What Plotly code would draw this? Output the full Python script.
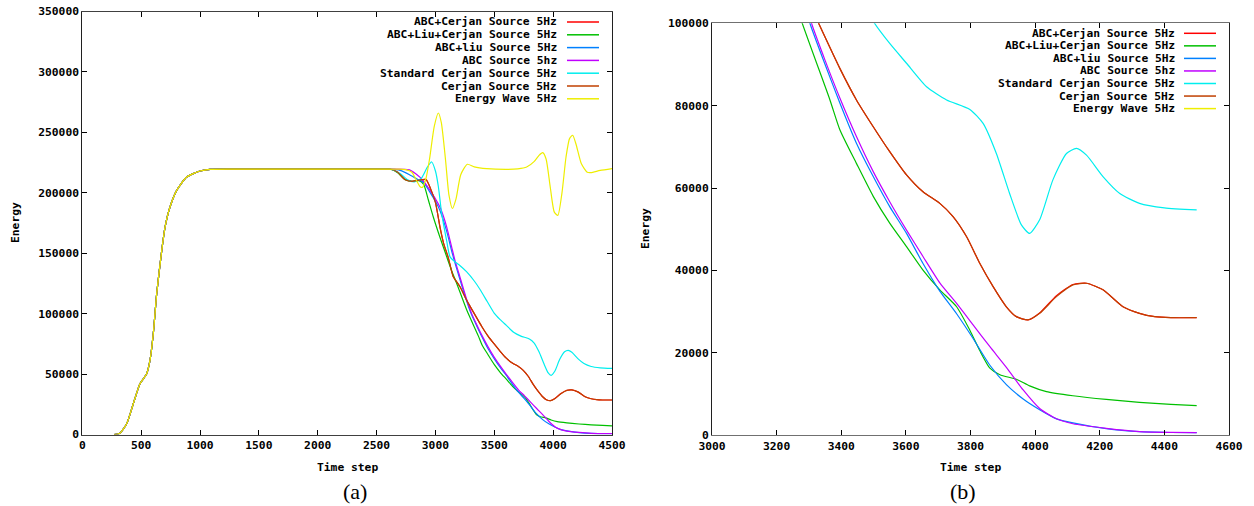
import plotly.graph_objects as go

# ---- shared start-up phase (all runs identical until the absorbing layer is reached)
ramp_t = [270, 320, 377, 433, 490, 547, 575, 603, 632, 675, 703, 745, 802, 887, 1000, 1085, 1500, 2000, 2600]
ramp_e = [0, 1100, 8900, 25400, 42000, 50300, 61300, 83400, 116500, 152400, 171600, 188200, 202000,
          213000, 218000, 219400, 219500, 219500, 219500]

# ---- per-run energy after time step 2600
abc_cerjan_t = [2620, 2680, 2740, 2800, 2860, 2920, 2960, 3000, 3040, 3070, 3110, 3150, 3210, 3266, 3330,
                3396, 3447, 3499, 3550, 3602, 3653, 3705, 3746, 3788, 3829, 3870, 3911, 3942, 3978, 4014,
                4066, 4117, 4159, 4210, 4272, 4323, 4370, 4420, 4500]
abc_cerjan_e = [219500, 217000, 211000, 209500, 210500, 211000, 203000, 192000, 171000, 158000, 146000, 131000,
                122000, 111000, 100000, 89000, 81400, 74900, 68850, 63200, 59100, 56300, 53100, 48200, 41700,
                36100, 31200, 28800, 28000, 29700, 33900, 36600, 36900, 35300, 31200, 29600, 28800, 28550, 28550]

abc_liu_cerjan_t = [2620, 2680, 2740, 2800, 2860, 2900, 2940, 2982, 3039, 3096, 3140, 3181, 3266, 3365, 3396,
                    3447, 3499, 3550, 3602, 3653, 3705, 3757, 3798, 3829, 3860, 3891, 3942, 3983, 4035, 4117,
                    4220, 4323, 4420, 4500]
abc_liu_cerjan_e = [219500, 216500, 211000, 209500, 210000, 207000, 194000, 180000, 163000, 147000, 135000,
                    125000, 103000, 81400, 74100, 66000, 58000, 51500, 45800, 40100, 35300, 31200, 25500, 20500,
                    16300, 14700, 13600, 12000, 10600, 9600, 8700, 8000, 7500, 7200]

abc_liu_t = [2620, 2700, 2780, 2850, 2900, 2950, 3000, 3040, 3096, 3140, 3181, 3250, 3303, 3350, 3396, 3447,
             3499, 3550, 3602, 3653, 3705, 3757, 3808, 3860, 3911, 3963, 4014, 4066, 4117, 4220, 4323, 4420, 4500]
abc_liu_e = [219500, 218500, 215000, 211000, 208500, 201000, 193000, 185000, 168000, 151000, 137000, 115000,
             100000, 90000, 80600, 70900, 62800, 55500, 49000, 41700, 35000, 29500, 23500, 17000, 12300, 8800,
             6200, 4000, 3000, 1600, 870, 680, 630]

abc_t = [2620, 2780, 2830, 2870, 2912, 2954, 3000, 3039, 3070, 3096, 3138, 3166, 3200, 3266, 3308, 3350, 3396,
         3447, 3499, 3550, 3602, 3653, 3705, 3757, 3808, 3860, 3911, 3963, 4014, 4066, 4117, 4220, 4323, 4420, 4500]
abc_e = [219500, 219000, 216000, 212700, 208000, 202000, 195000, 188000, 180000, 171600, 155100, 144100,
         133000, 111500, 100000, 91000, 81800, 72500, 64000, 56700, 49800, 43400, 37000, 32000, 26800, 21500,
         16500, 11000, 6500, 4000, 2800, 1700, 900, 700, 650]

std_cerjan_t = [2620, 2700, 2760, 2820, 2880, 2930, 2968, 3000, 3025, 3053, 3096, 3124, 3165, 3200, 3266, 3330,
                3379, 3440, 3499, 3550, 3602, 3664, 3726, 3798, 3839, 3880, 3921, 3958, 3983, 4014, 4055, 4097,
                4128, 4159, 4210, 4262, 4323, 4400, 4500]
std_cerjan_e = [219500, 216000, 211000, 209000, 212000, 221000, 225500, 218000, 205000, 183000, 160000, 147000,
                143000, 140500, 134500, 127000, 120000, 110000, 100500, 95100, 90300, 84600, 81400, 79100, 75700,
                68400, 58700, 51000, 49000, 52300, 62000, 68400, 69650, 68000, 62800, 58700, 56300, 55200, 54700]

cerjan_t = [2620, 2680, 2740, 2800, 2860, 2920, 2960, 3000, 3040, 3070, 3110, 3150, 3210, 3266, 3330, 3396,
            3447, 3499, 3550, 3602, 3653, 3705, 3746, 3788, 3829, 3870, 3911, 3942, 3978, 4014, 4066, 4117,
            4159, 4210, 4272, 4323, 4370, 4420, 4500]
cerjan_e = [219500, 217000, 211000, 209500, 210500, 211000, 203000, 192000, 171000, 158000, 146000, 131000,
            122000, 111000, 100000, 89000, 81400, 74900, 68850, 63200, 59100, 56300, 53100, 48200, 41700, 36100,
            31200, 28800, 28000, 29600, 33650, 36500, 36900, 35300, 31200, 29600, 28800, 28550, 28550]

wave_t = [2620, 2700, 2756, 2800, 2840, 2870, 2890, 2920, 2950, 2990, 3025, 3050, 3085, 3115, 3144, 3175, 3215,
          3271, 3330, 3436, 3606, 3700, 3775, 3840, 3880, 3911, 3940, 3975, 4010, 4040, 4075, 4110, 4140, 4166,
          4195, 4240, 4290, 4320, 4400, 4500]
wave_e = [219500, 219500, 219000, 217000, 210000, 205000, 204500, 212000, 228000, 255000, 266000, 258000,
          228000, 198000, 187000, 195000, 215000, 223600, 221500, 220000, 219400, 219800, 221300, 226000, 231000,
          233200, 228000, 205000, 184000, 181300, 200000, 230000, 245000, 247600, 240000, 224000, 217000, 216700,
          218500, 220000]

series_names = ["ABC+Cerjan Source 5Hz", "ABC+Liu+Cerjan Source 5Hz", "ABC+liu Source 5Hz", "ABC Source 5hz",
                "Standard Cerjan Source 5Hz", "Cerjan Source 5Hz", "Energy Wave 5Hz"]
series_colors = ["#ff0000", "#00c000", "#0080ff", "#c000ff", "#00eeee", "#c04000", "#eeee00"]
series_data = [(abc_cerjan_t, abc_cerjan_e), (abc_liu_cerjan_t, abc_liu_cerjan_e), (abc_liu_t, abc_liu_e),
               (abc_t, abc_e), (std_cerjan_t, std_cerjan_e), (cerjan_t, cerjan_e), (wave_t, wave_e)]

W, H = 1254, 506
MONO = dict(family="DejaVu Sans Mono", size=11.3, color="black", weight="bold")


def px(x):
    return x / W


def py(y):
    return 1 - y / H


fig = go.Figure()
for (tt, ee), name, col in zip(series_data, series_names, series_colors):
    t_full = ramp_t + tt
    e_full = ramp_e + ee
    for xa, ya in (("x", "y"), ("x2", "y2")):
        fig.add_trace(go.Scatter(x=t_full, y=e_full, mode="lines", name=name, xaxis=xa, yaxis=ya,
                                 line=dict(color=col, width=1.2, shape="spline", smoothing=0.6),
                                 showlegend=False))

axis_common = dict(showline=True, linewidth=1, mirror="ticks", ticks="inside", ticklen=5, tickwidth=1,
                   showgrid=False, zeroline=False, tickfont=MONO, tickcolor="black", automargin=False)

fig.update_layout(
    template="none",
    width=W, height=H, margin=dict(l=0, r=0, t=0, b=0, pad=0, autoexpand=False),
    paper_bgcolor="white", plot_bgcolor="white",
    xaxis=dict(domain=[px(82.3), px(612)], range=[0, 4500], dtick=500, anchor="y",
               linecolor="#404040", **axis_common),
    yaxis=dict(domain=[py(434.5), py(11.5)], range=[0, 350000], dtick=50000, tickformat="d", anchor="x",
               linecolor="#202020", **axis_common),
    xaxis2=dict(domain=[px(712), px(1229)], range=[3000, 4600], dtick=200, anchor="y2",
                linecolor="#707070", **axis_common),
    yaxis2=dict(domain=[py(435.3), py(23.3)], range=[0, 100000], dtick=20000, tickformat="d", anchor="x2",
                linecolor="#202020", **axis_common),
)

annotations = []
shapes = []

# axis titles and panel captions
for cx, cap in ((347, "(a)"), (970.5, "(b)")):
    annotations.append(dict(x=px(cx), y=py(467), xref="paper", yref="paper", text="Time step",
                            showarrow=False, font=MONO, xanchor="center", yanchor="middle"))
    annotations.append(dict(x=px(cx + (8 if cap == "(a)" else -8)), y=py(491), xref="paper", yref="paper",
                            text=cap, showarrow=False, xanchor="center", yanchor="middle",
                            font=dict(family="Liberation Serif", size=22, color="black")))
for ex, ey in ((15, 223), (645, 229)):
    annotations.append(dict(x=px(ex), y=py(ey), xref="paper", yref="paper", text="Energy", textangle=-90,
                            showarrow=False, font=MONO, xanchor="center", yanchor="middle"))

# key boxes: right-aligned labels with line samples on their right
for text_right, line_x0, line_x1, row0, step in ((559, 567, 599, 22, 12.8), (1177, 1184, 1216, 33.3, 12.55)):
    for i, (name, col) in enumerate(zip(series_names, series_colors)):
        yy = row0 + i * step
        annotations.append(dict(x=px(text_right), y=py(yy), xref="paper", yref="paper", text=name,
                                showarrow=False, font=MONO, xanchor="right", yanchor="middle"))
        shapes.append(dict(type="line", xref="paper", yref="paper", x0=px(line_x0), x1=px(line_x1),
                           y0=py(yy), y1=py(yy), line=dict(color=col, width=1.5)))

fig.update_layout(annotations=annotations, shapes=shapes)
fig.write_html("out.html")
